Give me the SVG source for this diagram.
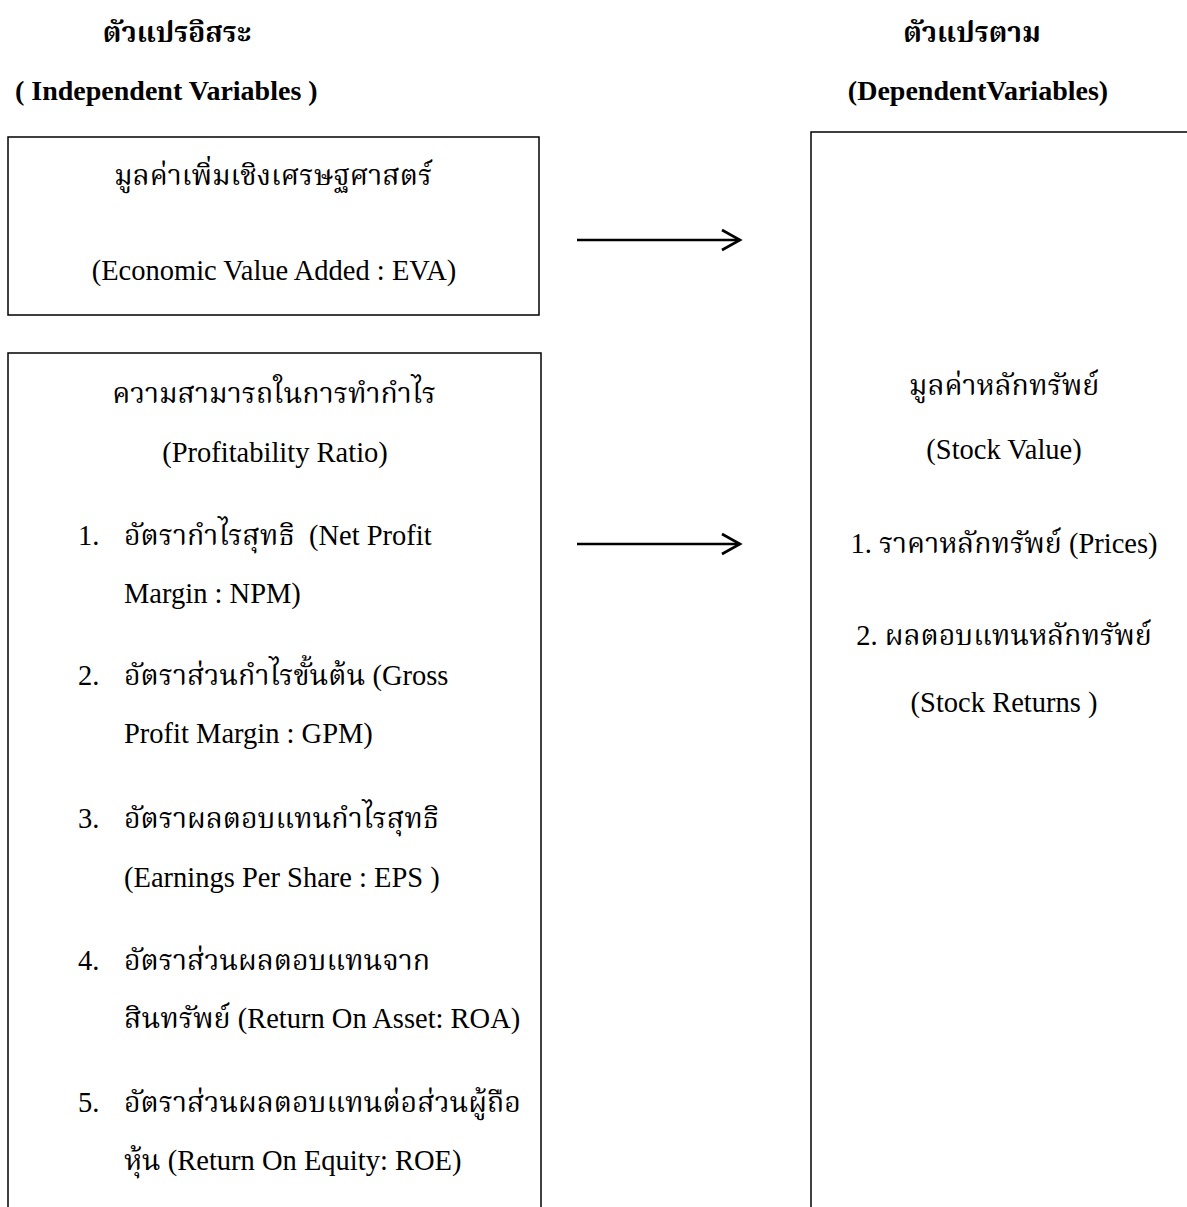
<svg xmlns="http://www.w3.org/2000/svg" width="1187" height="1207" viewBox="0 0 1187 1207">
<style>
text{font-family:"Liberation Serif","Noto Serif Thai","Kinnari","Norasi","Tlwg Typo","DejaVu Serif",serif;fill:#000;white-space:pre}
.h{font-weight:bold;font-size:28px}
.t{font-size:28.5px}
.c{text-anchor:middle}
.box{fill:none;stroke:#000;stroke-width:1.5}
.arr{stroke:#000;stroke-width:2.6;fill:none}
</style>
<defs>
<marker id="ah" markerUnits="userSpaceOnUse" markerWidth="22" markerHeight="24" refX="19" refY="12" orient="auto" viewBox="0 0 22 24">
<path d="M1,2 L19,12 L1,22" fill="none" stroke="#000" stroke-width="2.6"/>
</marker>
</defs>
<rect width="1187" height="1207" fill="#fff"/>
<g id="title-left">
<text class="h c" x="177" y="42">ตัวแปรอิสระ</text>
<text class="h" x="15" y="100">( Independent Variables )</text>
</g>
<g id="title-right">
<text class="h c" x="972" y="42">ตัวแปรตาม</text>
<text class="h c" x="978" y="100">(DependentVariables)</text>
</g>
<g id="node-eva">
<rect class="box" x="8" y="137" width="531" height="178"/>
<text class="t c" x="273" y="185">มูลค่าเพิ่มเชิงเศรษฐศาสตร์</text>
<text class="t c" x="274" y="280">(Economic Value Added : EVA)</text>
</g>
<g id="node-profit">
<rect class="box" x="8" y="353" width="533" height="870"/>
<text class="t c" x="274" y="403">ความสามารถในการทำกำไร</text>
<text class="t c" x="275" y="462">(Profitability Ratio)</text>
<text class="t" x="78" y="545">1.</text>
<text class="t" x="124" y="545">อัตรากำไรสุทธิ  (Net Profit</text>
<text class="t" x="124" y="603">Margin : NPM)</text>
<text class="t" x="78" y="685">2.</text>
<text class="t" x="124" y="685">อัตราส่วนกำไรขั้นต้น (Gross</text>
<text class="t" x="124" y="743">Profit Margin : GPM)</text>
<text class="t" x="78" y="828">3.</text>
<text class="t" x="124" y="828">อัตราผลตอบแทนกำไรสุทธิ</text>
<text class="t" x="124" y="887">(Earnings Per Share : EPS )</text>
<text class="t" x="78" y="970">4.</text>
<text class="t" x="124" y="970">อัตราส่วนผลตอบแทนจาก</text>
<text class="t" x="124" y="1028">สินทรัพย์ (Return On Asset: ROA)</text>
<text class="t" x="78" y="1112">5.</text>
<text class="t" x="124" y="1112">อัตราส่วนผลตอบแทนต่อส่วนผู้ถือ</text>
<text class="t" x="124" y="1170">หุ้น (Return On Equity: ROE)</text>
</g>
<g id="node-stock">
<rect class="box" x="811" y="132" width="390" height="1090"/>
<text class="t c" x="1004" y="395">มูลค่าหลักทรัพย์</text>
<text class="t c" x="1004" y="459">(Stock Value)</text>
<text class="t c" x="1004" y="553">1. ราคาหลักทรัพย์ (Prices)</text>
<text class="t c" x="1004" y="645">2. ผลตอบแทนหลักทรัพย์</text>
<text class="t c" x="1004" y="712">(Stock Returns )</text>
</g>
<g id="connectors">
<line class="arr" x1="577" y1="240" x2="740" y2="240" marker-end="url(#ah)"/>
<line class="arr" x1="577" y1="544" x2="740" y2="544" marker-end="url(#ah)"/>
</g>
</svg>
